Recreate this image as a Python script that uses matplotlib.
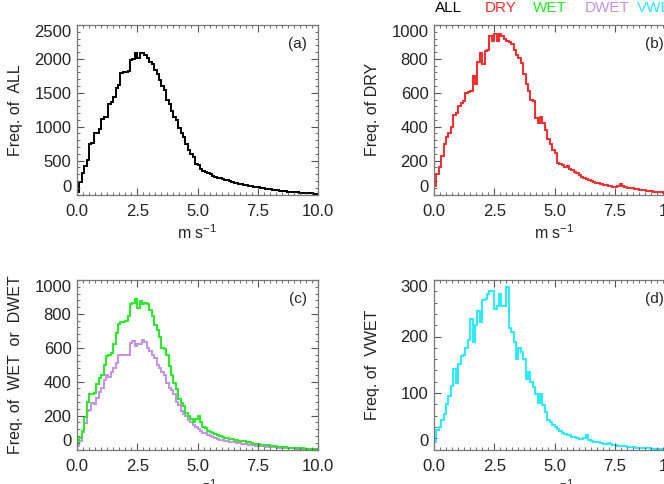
import numpy as np
import matplotlib
matplotlib.use('Agg')
import matplotlib.pyplot as plt
from matplotlib.ticker import MultipleLocator

plt.rcParams['font.family'] = ['Liberation Sans', 'DejaVu Sans']
plt.rcParams['mathtext.fontset'] = 'custom'
plt.rcParams['mathtext.rm'] = 'Liberation Sans'

# wind speed bins, 0.1 m/s wide, 0 - 10 m/s
bin_edges = np.linspace(0, 10, 101)

freq_all = [40, 190, 310, 420, 510, 740, 760, 900, 910, 960,
            1120, 1140, 1150, 1340, 1370, 1440, 1570, 1620, 1790, 1800,
            1810, 1820, 1990, 2000, 2080, 2020, 2080, 2080, 2060, 2010,
            1950, 1930, 1840, 1770, 1690, 1600, 1540, 1400, 1340, 1230,
            1150, 1100, 980, 905, 850, 740, 660, 590, 550, 450,
            430, 380, 350, 330, 310, 295, 280, 265, 250, 240,
            225, 215, 210, 200, 185, 170, 168, 160, 150, 140,
            138, 130, 122, 115, 110, 105, 98, 92, 88, 80,
            75, 70, 66, 60, 55, 50, 45, 42, 40, 35,
            32, 30, 28, 25, 22, 20, 18, 16, 14, 12]

freq_dry = [50, 120, 165, 230, 300, 340, 360, 400, 470, 480,
            520, 540, 550, 600, 605, 610, 700, 650, 780, 835,
            770, 845, 855, 935, 905, 945, 905, 945, 935, 920,
            905, 900, 885, 855, 825, 805, 775, 710, 650, 610,
            560, 550, 450, 420, 460, 420, 380, 330, 300, 263,
            243, 185, 180, 175, 165, 170, 150, 145, 130, 125,
            115, 105, 100, 90, 86, 80, 76, 70, 66, 62,
            58, 56, 50, 48, 46, 45, 52, 62, 50, 46,
            40, 38, 36, 32, 30, 28, 26, 24, 20, 22,
            18, 16, 15, 14, 12, 10, 10, 8, 8, 6]

freq_wet = [40, 70, 110, 190, 280, 325, 330, 335, 385, 420,
            440, 500, 550, 560, 570, 620, 690, 740, 750, 755,
            760, 790, 860, 865, 890, 835, 875, 860, 865, 860,
            825, 785, 735, 705, 665, 600, 590, 560, 490, 440,
            390, 355, 300, 275, 255, 215, 200, 180, 165, 180,
            195, 160, 135, 125, 110, 105, 95, 90, 85, 80,
            75, 70, 68, 62, 60, 57, 55, 52, 50, 48,
            45, 42, 38, 35, 32, 30, 29, 27, 25, 24,
            22, 20, 18, 16, 14, 14, 12, 10, 9, 8,
            8, 7, 6, 6, 5, 5, 4, 4, 3, 3]

freq_dwet = [20, 50, 105, 155, 225, 235, 275, 270, 305, 340,
             360, 410, 440, 430, 460, 480, 510, 560, 555, 560,
             555, 560, 630, 640, 610, 620, 625, 645, 635, 600,
             580, 560, 540, 500, 480, 460, 440, 390, 365, 350,
             325, 280, 260, 225, 210, 195, 175, 160, 145, 130,
             120, 110, 100, 95, 88, 80, 72, 68, 62, 58,
             55, 52, 50, 47, 45, 42, 40, 37, 35, 32,
             30, 28, 26, 25, 23, 21, 20, 18, 17, 16,
             14, 13, 12, 11, 10, 9, 8, 8, 7, 6,
             6, 5, 5, 4, 4, 3, 3, 3, 2, 2]

freq_vwet = [14, 35, 40, 52, 62, 80, 95, 112, 143, 118,
             152, 166, 168, 180, 194, 231, 190, 220, 246, 226,
             265, 266, 276, 280, 280, 248, 254, 275, 254, 254,
             288, 215, 208, 190, 160, 180, 173, 160, 125, 137,
             120, 111, 99, 82, 99, 78, 66, 52, 48, 43,
             40, 37, 33, 30, 28, 26, 25, 22, 22, 20,
             19, 18, 20, 26, 17, 15, 14, 13, 13, 12,
             10, 10, 11, 9, 8, 8, 7, 7, 6, 6,
             5, 5, 4, 4, 3, 3, 2, 2, 2, 2,
             1, 1, 1, 1, 1, 1, 0, 0, 0, 0]

names = ['ALL', 'DRY', 'WET', 'DWET', 'VWET']
colors = ['black', '#ff2a2a', '#22ee22', '#c590e8', '#22eeff']

W, H = 664, 484
fig = plt.figure(figsize=(W / 100, H / 100), dpi=100)

def px_axes(left, top, width=241, height=169.5):
    return fig.add_axes([left / W, (H - top - height) / H, width / W, height / H])

ax_a = px_axes(77, 25)
ax_b = px_axes(434, 25)
ax_c = px_axes(77, 280)
ax_d = px_axes(434, 280)

panels = [
    (ax_a, [(freq_all, colors[0])], 2500, 500, 'Freq. of  ALL', '(a)'),
    (ax_b, [(freq_dry, colors[1])], 1000, 200, 'Freq. of DRY', '(b)'),
    (ax_c, [(freq_wet, colors[2]), (freq_dwet, colors[3])], 1000, 200,
     'Freq. of  WET  or  DWET', '(c)'),
    (ax_d, [(freq_vwet, colors[4])], 300, 100, 'Freq. of  VWET', '(d)'),
]

for ax, series, ymax, ystep, ylab, tag in panels:
    for vals, c in series[::-1]:
        ax.stairs(vals, bin_edges, baseline=None, color=c, lw=1.4)
    ax.set_xlim(0, 10)
    ax.set_ylim(0, ymax)
    ax.set_xticks([0, 2.5, 5, 7.5, 10])
    ax.set_xticklabels(['0.0', '2.5', '5.0', '7.5', '10.0'])
    ax.xaxis.set_minor_locator(MultipleLocator(0.25))
    ax.set_yticks(np.arange(0, ymax + 1, ystep))
    ax.yaxis.set_minor_locator(MultipleLocator(ystep / 5))
    ax.tick_params(which='both', direction='in', top=True, right=True,
                   color='#555555', labelsize=12, labelcolor='#222222')
    ax.tick_params(which='major', length=5, width=0.8)
    ax.tick_params(which='minor', length=2.5, width=0.6)
    ax.tick_params(axis='x', pad=7)
    ax.tick_params(axis='y', pad=4)
    for s in ax.spines.values():
        s.set_color('#777777')
        s.set_linewidth(0.9)
    ylabels = ax.get_yticklabels()
    ylabels[0].set_va('bottom')
    ylabels[-1].set_va('top')
    ax.set_ylabel(ylab, fontsize=11.5, color='#222222')
    ax.yaxis.set_label_coords(-0.225, 0.5)
    ax.set_xlabel('m s$^{-1}$', fontsize=11.5, color='#222222', labelpad=3)
    ax.text(0.915, 0.89, tag, transform=ax.transAxes, ha='center', va='center',
            fontsize=11, color='#222222')

# colour key along the top
key_x = [449, 501, 550, 607]
for name, c, x in zip(names[:4], colors[:4], key_x):
    fig.text(x / W, 1 - 8 / H, name, color=c, ha='center', va='center', fontsize=11)
fig.text(637 / W, 1 - 8 / H, names[4], color=colors[4], ha='left', va='center', fontsize=11)

fig.savefig('out.png', dpi=100)
